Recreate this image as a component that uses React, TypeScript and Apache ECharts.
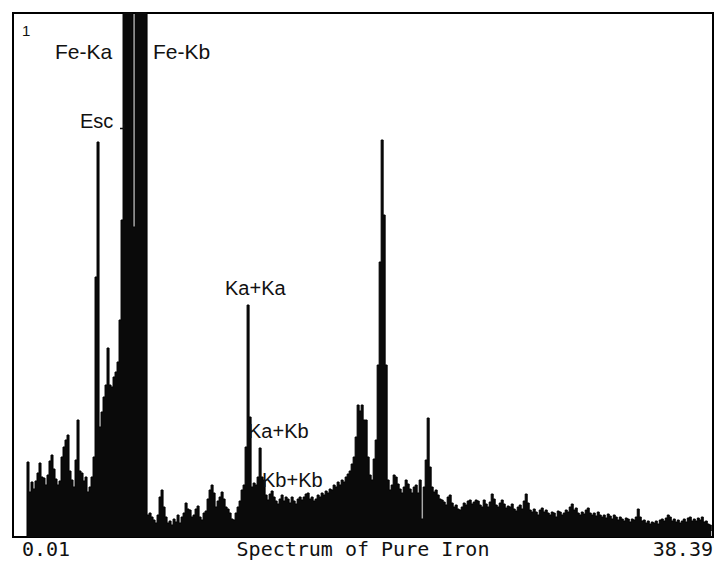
import React, { useEffect, useRef } from "react";
import * as echarts from "echarts";

// Energy calibration of the channels (keV)
const START_KEV = 0.01;
const CHANNEL_KEV = 0.1097;
const X_MIN = 0.01;
const X_MAX = 38.39;
const X_TICK_LABELS = [0.01, 38.39];
const Y_MAX = 1048;
const AXIS_TITLE = "Spectrum of Pure Iron";

// Counts per channel
const COUNTS = [
  0, 0, 0, 0, 0, 0, 0,
  150,
  90, 110, 96, 112, 128, 148, 120, 118, 104, 124, 152, 164,
  136, 116, 104, 112, 160, 180, 194, 204, 132, 114, 100, 154,
  234, 132, 128, 112, 120, 90, 100, 120, 160, 520, 790, 220,
  250, 280, 304, 378, 304, 300, 320, 330, 350, 434, 634,
  1200, 1200, 1200, 1200, 1200,
  620,
  1200, 1200, 1200, 1200, 1200, 1200,
  44, 48, 40, 34, 28, 44, 80, 94, 60, 40, 28, 32,
  24, 36, 30, 44, 28, 40, 48, 68, 56, 54, 40, 44,
  56, 62, 40, 34, 48, 52, 76, 94, 104, 88, 60, 72,
  80, 90, 76, 60, 56, 48, 36, 34, 48, 60, 72, 94,
  104, 180, 464, 240, 100, 108, 104, 120, 178, 120, 114, 84,
  74, 86, 92, 80, 72, 66, 76, 84, 72, 80, 76, 68,
  80, 72, 66, 76, 80, 74, 80, 86, 88, 76, 80, 72,
  76, 84, 80, 88, 84, 92, 88, 96, 94, 104, 100, 110,
  104, 114, 110, 120, 126, 132, 146, 160, 200, 264, 252, 264,
  234, 234, 160, 124, 114, 156, 194, 344, 550, 794, 644, 344,
  114, 94, 104, 124, 120, 106, 96, 88, 100, 114, 106, 96,
  88, 100, 104, 88, 114, 36, 100, 154, 238, 140, 100, 90,
  94, 84, 76, 74, 70, 64, 80, 84, 68, 60, 64, 56,
  54, 60, 68, 64, 72, 74, 66, 70, 74, 72, 64, 60,
  74, 66, 60, 70, 86, 76, 64, 60, 68, 74, 66, 58,
  62, 60, 66, 56, 52, 60, 64, 56, 72, 86, 68, 54,
  50, 56, 50, 44, 54, 58, 50, 54, 48, 44, 50, 48,
  40, 52, 50, 44, 48, 54, 50, 60, 66, 54, 58, 48,
  44, 50, 46, 54, 58, 48, 44, 48, 42, 50, 44, 40,
  44, 38, 46, 42, 36, 44, 40, 34, 40, 36, 32, 38,
  36, 30, 36, 34, 40, 56, 40, 32, 34, 28, 32, 26,
  30, 28, 32, 26, 34, 36, 32, 38, 44, 40, 32, 36,
  30, 34, 28, 32, 36, 30, 38, 40, 32, 36, 32, 38,
  34, 40, 30, 32, 26, 24, 12,
];

const PEAK_LABELS = ["Fe-Ka", "Fe-Kb", "Esc", "Ka+Ka", "Ka+Kb", "Kb+Kb"];

const INK = "#111";
const SANS = '"Liberation Sans", Arial, sans-serif';
const MONO = '"DejaVu Sans Mono", "Liberation Mono", monospace';

export default function App() {
  const ref = useRef<HTMLDivElement>(null);

  useEffect(() => {
    if (!ref.current) return;
    const chart = echarts.init(ref.current, undefined, { renderer: "svg" });

    const data = COUNTS.map((c, i) => [START_KEV + i * CHANNEL_KEV, c]);

    const labelPos: Record<string, [number, number, number]> = {
      "Fe-Ka": [55, 51, 21],
      "Fe-Kb": [153, 51, 21],
      Esc: [80, 121, 20],
      "Ka+Ka": [225, 288, 20],
      "Ka+Kb": [248, 431, 20],
      "Kb+Kb": [262, 480, 20],
    };

    const graphics: any[] = [
      {
        type: "text",
        x: 22,
        y: 30,
        z: 100,
        style: { text: "1", font: `15px ${SANS}`, fill: INK, verticalAlign: "middle" },
      },
      {
        type: "polyline",
        z: 100,
        shape: { points: [[120, 128.5], [124, 128.5], [124, 124]] },
        style: { stroke: INK, lineWidth: 1.5, fill: "none" },
      },
    ];
    PEAK_LABELS.forEach((t) => {
      const [x, y, fs] = labelPos[t];
      graphics.push({
        type: "text",
        x,
        y,
        z: 100,
        style: { text: t, font: `${fs}px ${SANS}`, fill: INK, verticalAlign: "middle", align: "left" },
      });
    });

    chart.setOption({
      animation: false,
      backgroundColor: "#fff",
      grid: {
        show: true,
        left: 13,
        top: 13,
        width: 700,
        height: 524,
        borderColor: "#000",
        borderWidth: 2,
        backgroundColor: "#fff",
        containLabel: false,
        outerBoundsMode: "none",
      },
      xAxis: {
        type: "value",
        min: X_MIN,
        max: X_MAX,
        name: AXIS_TITLE,
        nameLocation: "middle",
        nameGap: 2,
        nameMoveOverlap: false,
        nameTextStyle: { fontFamily: MONO, fontSize: 20, color: INK, verticalAlign: "top" },
        axisLine: { show: false },
        axisTick: { show: false },
        splitLine: { show: false },
        axisLabel: {
          customValues: X_TICK_LABELS,
          formatter: (v: number) => v.toFixed(2),
          fontFamily: MONO,
          fontSize: 20,
          color: INK,
          margin: 2,
          alignMinLabel: "left",
          alignMaxLabel: "right",
          padding: [0, 0, 0, 9],
          showMinLabel: true,
          showMaxLabel: true,
        },
      },
      yAxis: {
        type: "value",
        min: 0,
        max: Y_MAX,
        show: false,
        splitLine: { show: false },
      },
      series: [
        {
          type: "line",
          data,
          step: "end",
          symbol: "none",
          clip: true,
          lineStyle: { color: "#000", width: 1 },
          areaStyle: { color: "#0a0a0a", opacity: 1 },
          silent: true,
        },
      ],
      graphic: graphics,
    });

    return () => chart.dispose();
  }, []);

  return (
    <div
      ref={ref}
      style={{ position: "fixed", left: 0, top: 0, width: 715, height: 563, background: "#fff" }}
    />
  );
}
